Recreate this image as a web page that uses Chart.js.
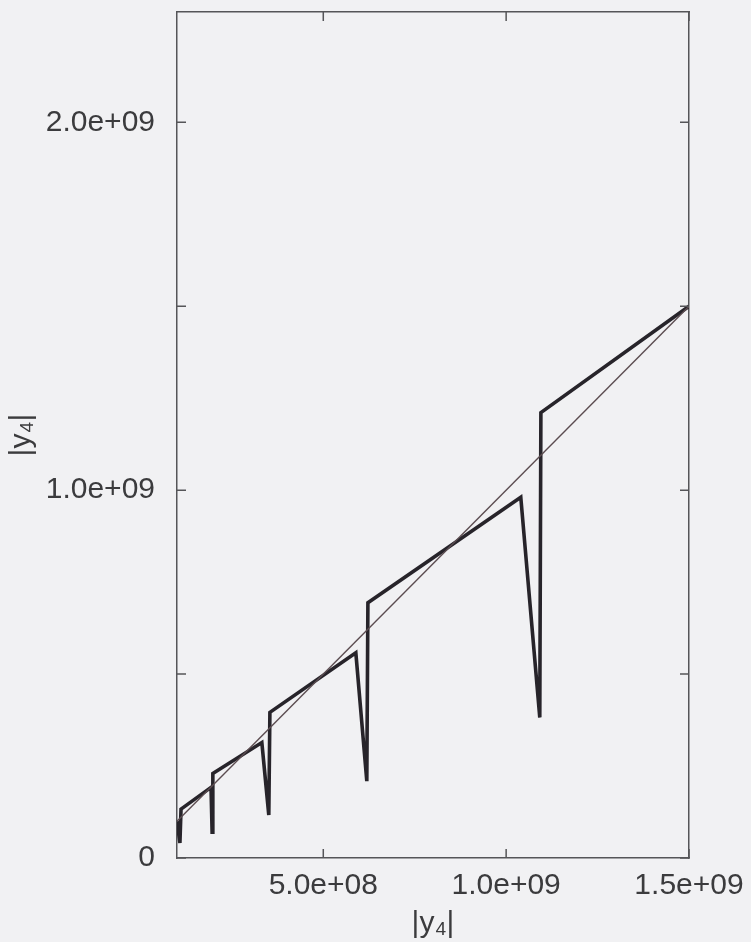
<!DOCTYPE html>
<html>
<head>
<meta charset="utf-8">
<script src="https://cdn.jsdelivr.net/npm/chart.js@4/dist/chart.umd.min.js"></script>
<style>
  html, body { margin: 0; padding: 0; background: #f1f1f3; }
  #wrap { width: 751px; height: 942px; }
</style>
</head>
<body>
<div id="wrap"><canvas id="myChart" width="751" height="942"></canvas></div>
<script>
'use strict';

// data: |y4| of step n against |y4| of step n+1 (sawtooth) and the identity line
var sawX = [1.0e8, 1.08e8, 1.11e8, 1.93e8, 1.96e8, 1.98e8, 3.32e8, 3.51e8, 3.54e8,
  5.89e8, 6.19e8, 6.22e8, 10.4e8, 10.92e8, 10.95e8, 15.0e8];
var sawY = [1.0e8, 0.41e8, 1.33e8, 1.92e8, 0.70e8, 2.30e8, 3.14e8, 1.17e8, 3.96e8,
  5.58e8, 2.09e8, 6.94e8, 9.81e8, 3.82e8, 12.11e8, 15.0e8];
var diagX = [1.0e8, 1.5e9];
var diagY = [1.0e8, 1.5e9];

// axes
var xMin = 1.0e8;
var xMax = 1.5e9;
var yMin = 0;
var yMax = 2.3e9;
var xTicks = [5.0e8, 1.0e9, 1.5e9];
var xTickLabels = ['5.0e+08', '1.0e+09', '1.5e+09'];
var yTicks = [0, 5.0e8, 1.0e9, 1.5e9, 2.0e9];
var yTickLabels = ['0', '', '1.0e+09', '', '2.0e+09'];
var axisTitle = '|y\u2084|';

function toPoints(xs, ys) {
  var pts = [];
  for (var i = 0; i < xs.length; i++) {
    pts.push({ x: xs[i], y: ys[i] });
  }
  return pts;
}

function setTicks(values) {
  return function (scale) {
    scale.ticks = values.map(function (v) { return { value: v }; });
  };
}

// fixed box size, and no extra room for labels hanging over the ends
function fixSize(w, h) {
  return function (s) {
    if (w !== null) s.width = w;
    if (h !== null) s.height = h;
    s.paddingTop = 0;
    s.paddingBottom = 0;
    s.paddingLeft = 0;
    s.paddingRight = 0;
  };
}

var font = { family: '"Liberation Sans", Arial, Helvetica, sans-serif', size: 30 };
var inkColor = '#3b3b3d';

// short tick marks pointing into the frame on all four sides
var innerTicks = {
  id: 'innerTicks',
  afterDraw: function (chart) {
    var c = chart.ctx;
    var a = chart.chartArea;
    var len = 9;
    c.save();
    c.strokeStyle = '#555558';
    c.lineWidth = 1.5;
    c.beginPath();
    chart.scales.x.ticks.forEach(function (t) {
      var px = chart.scales.x.getPixelForValue(t.value);
      c.moveTo(px, a.bottom);
      c.lineTo(px, a.bottom - len);
      c.moveTo(px, a.top);
      c.lineTo(px, a.top + len);
    });
    chart.scales.y.ticks.forEach(function (t) {
      var py = chart.scales.y.getPixelForValue(t.value);
      c.moveTo(a.left, py);
      c.lineTo(a.left + len, py);
      c.moveTo(a.right, py);
      c.lineTo(a.right - len, py);
    });
    c.stroke();
    c.restore();
  }
};

var ctx = document.getElementById('myChart').getContext('2d');
var chart = new Chart(ctx, {
  type: 'scatter',
  data: {
    datasets: [{
      label: 'identity',
      data: toPoints(diagX, diagY),
      showLine: true,
      borderColor: '#5b4c50',
      borderWidth: 1.4,
      pointRadius: 0
    }, {
      label: 'sawtooth',
      data: toPoints(sawX, sawY),
      showLine: true,
      borderColor: '#27242a',
      borderWidth: 3.6,
      borderJoinStyle: 'miter',
      pointRadius: 0
    }]
  },
  options: {
    responsive: false,
    animation: false,
    layout: { padding: 0 },
    plugins: {
      legend: { display: false },
      tooltip: { enabled: false }
    },
    scales: {
      x: {
        type: 'linear',
        position: 'bottom',
        min: xMin,
        max: xMax,
        afterBuildTicks: setTicks(xTicks),
        afterFit: fixSize(null, 84),
        grid: { display: false, drawTicks: false },
        border: { display: true, color: '#555558', width: 1.5 },
        ticks: {
          padding: 10,
          color: inkColor,
          font: font,
          maxRotation: 0,
          callback: function (v, i) { return xTickLabels[i]; }
        },
        title: {
          display: true,
          text: axisTitle,
          color: inkColor,
          font: font,
          padding: { top: 0, bottom: 0 }
        }
      },
      x2: {
        type: 'linear',
        position: 'top',
        min: xMin,
        max: xMax,
        afterFit: fixSize(null, 12),
        grid: { display: false, drawTicks: false },
        border: { display: true, color: '#555558', width: 1.5 },
        ticks: { display: false }
      },
      y: {
        type: 'linear',
        position: 'left',
        min: yMin,
        max: yMax,
        afterBuildTicks: setTicks(yTicks),
        afterFit: fixSize(177, null),
        grid: { display: false, drawTicks: false },
        border: { display: true, color: '#555558', width: 1.5 },
        ticks: {
          padding: 22,
          color: inkColor,
          font: font,
          callback: function (v, i) { return yTickLabels[i]; }
        },
        title: {
          display: true,
          text: axisTitle,
          color: inkColor,
          font: font,
          padding: { top: 4, bottom: 0 }
        }
      },
      y2: {
        type: 'linear',
        position: 'right',
        min: yMin,
        max: yMax,
        afterFit: fixSize(62, null),
        grid: { display: false, drawTicks: false },
        border: { display: true, color: '#555558', width: 1.5 },
        ticks: { display: false }
      }
    }
  },
  plugins: [innerTicks]
});
</script>
</body>
</html>
